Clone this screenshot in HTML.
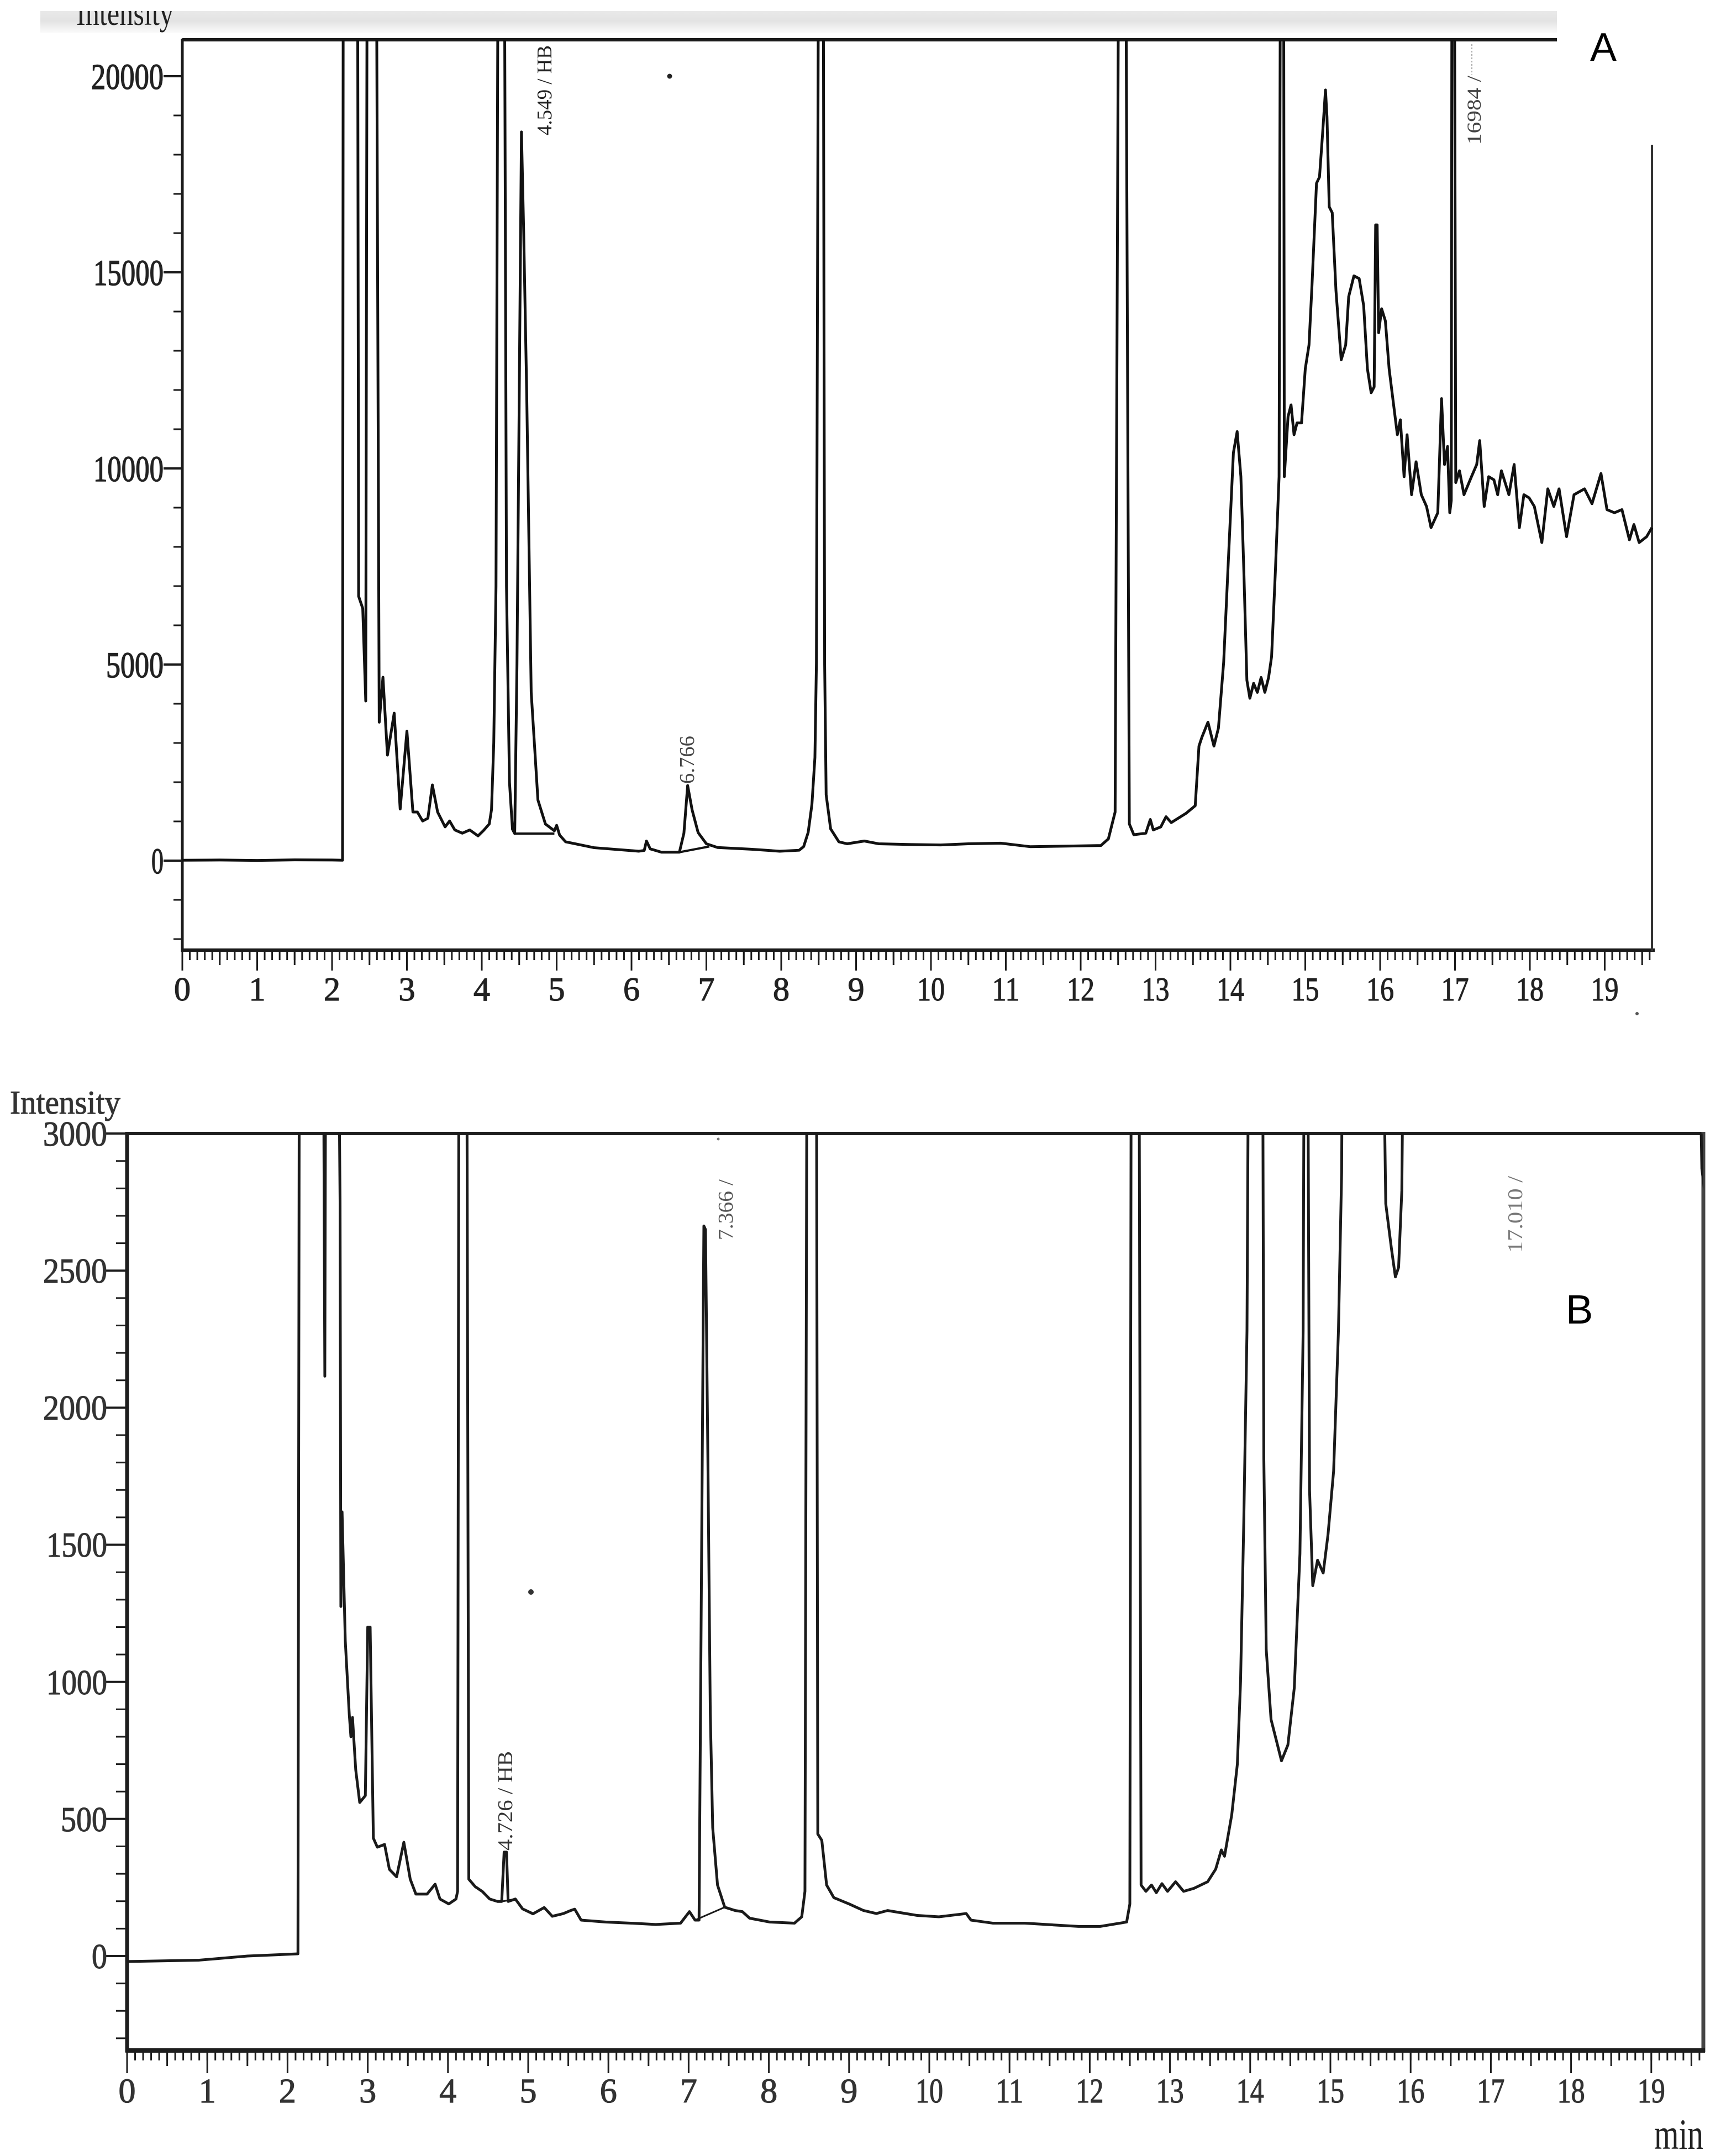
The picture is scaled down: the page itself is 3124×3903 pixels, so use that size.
<!DOCTYPE html>
<html><head><meta charset="utf-8"><style>
html,body{margin:0;padding:0;background:#fff;}
svg{display:block;}
text{font-family:"Liberation Serif",serif;}
</style></head><body>
<svg width="3124" height="3903" viewBox="0 0 3124 3903" xmlns="http://www.w3.org/2000/svg">
<defs>
<linearGradient id="band" x1="0" y1="0" x2="0" y2="1">
<stop offset="0" stop-color="#e9e9e9"/><stop offset="0.45" stop-color="#e3e3e3"/><stop offset="1" stop-color="#fbfbfb"/>
</linearGradient>
<clipPath id="cIA"><rect x="0" y="20" width="3124" height="60"/></clipPath>
<clipPath id="cA"><rect x="330" y="72" width="2662" height="1648"/></clipPath>
<clipPath id="cB"><rect x="230" y="2052" width="2853" height="1660"/></clipPath>
</defs>
<rect x="0" y="0" width="3124" height="3903" fill="#fff"/>

<!-- ===== CHART A ===== -->
<rect x="73" y="20" width="2745" height="40" fill="url(#band)"/>
<text x="138" y="45" font-size="62" textLength="176" lengthAdjust="spacingAndGlyphs" fill="#222" clip-path="url(#cIA)">Intensity</text>

<g stroke="#1a1a1a" fill="none">
<line x1="330" y1="72" x2="2818" y2="72" stroke-width="6"/>
<line x1="330" y1="70" x2="330" y2="1723" stroke-width="5"/>
<line x1="328" y1="1720" x2="2995" y2="1720" stroke-width="6"/>
<line x1="2990" y1="262" x2="2990" y2="1722" stroke-width="4" stroke="#333"/>
<line x1="322" y1="1701.5" x2="322" y2="130" stroke-width="16" stroke-dasharray="3 68"/>
<path d="M296 138H330M296 493H330M296 848H330M296 1203H330M296 1558H330" stroke-width="4"/>
<line x1="328.5" y1="1729" x2="2992" y2="1729" stroke-width="18" stroke-dasharray="3 10.55"/>
<line x1="396.25" y1="1733.5" x2="2992" y2="1733.5" stroke-width="27" stroke-dasharray="3 132.5"/>
<line x1="328.5" y1="1738.5" x2="2992" y2="1738.5" stroke-width="37" stroke-dasharray="3 132.5"/>
</g>
<g font-size="66" fill="#222" stroke="#222" stroke-width="1.5" text-anchor="end">
<text x="296" y="161" textLength="131" lengthAdjust="spacingAndGlyphs">20000</text>
<text x="296" y="516" textLength="127" lengthAdjust="spacingAndGlyphs">15000</text>
<text x="296" y="871" textLength="127" lengthAdjust="spacingAndGlyphs">10000</text>
<text x="296" y="1226" textLength="104" lengthAdjust="spacingAndGlyphs">5000</text>
<text x="296" y="1581" textLength="22" lengthAdjust="spacingAndGlyphs">0</text>
</g>
<g font-size="60" fill="#222" stroke="#222" stroke-width="1.2" text-anchor="middle">
<text x="330" y="1811">0</text><text x="465.5" y="1811">1</text><text x="601" y="1811">2</text><text x="736.5" y="1811">3</text><text x="872" y="1811">4</text><text x="1007.5" y="1811">5</text><text x="1143" y="1811">6</text><text x="1278.5" y="1811">7</text><text x="1414" y="1811">8</text><text x="1549.5" y="1811">9</text>
<text x="1685" y="1811" textLength="50" lengthAdjust="spacingAndGlyphs">10</text><text x="1820.5" y="1811" textLength="50" lengthAdjust="spacingAndGlyphs">11</text><text x="1956" y="1811" textLength="50" lengthAdjust="spacingAndGlyphs">12</text><text x="2091.5" y="1811" textLength="50" lengthAdjust="spacingAndGlyphs">13</text><text x="2227" y="1811" textLength="50" lengthAdjust="spacingAndGlyphs">14</text><text x="2362.5" y="1811" textLength="50" lengthAdjust="spacingAndGlyphs">15</text><text x="2498" y="1811" textLength="50" lengthAdjust="spacingAndGlyphs">16</text><text x="2633.5" y="1811" textLength="50" lengthAdjust="spacingAndGlyphs">17</text><text x="2769" y="1811" textLength="50" lengthAdjust="spacingAndGlyphs">18</text><text x="2904.5" y="1811" textLength="50" lengthAdjust="spacingAndGlyphs">19</text>
</g>

<g clip-path="url(#cA)">
<g transform="matrix(135.5 0 0 -0.071 330 1558)" fill="none" stroke="#111" stroke-width="5" stroke-linejoin="round">
<path vector-effect="non-scaling-stroke" d="M0 10 L0.5 15 L1.0 5 L1.5 20 L2.0 15 L2.14 10 L2.15 25000 L2.34 25000 L2.355 6740 L2.41 6430 L2.45 4070 L2.47 25000 L2.59 25000 L2.63 3530 L2.68 4676 L2.74 2690 L2.83 3760 L2.91 1316 L3.0 3301 L3.08 1240 L3.14 1240 L3.21 1010 L3.28 1080 L3.34 1930 L3.41 1240 L3.51 860 L3.57 1010 L3.64 782 L3.74 700 L3.84 782 L3.95 630 L4.03 782 L4.1 935 L4.13 1300 L4.16 3000 L4.19 7000 L4.22 25000 L4.30 25000 L4.33 7000 L4.37 2000 L4.41 800 L4.44 690 L4.47 5000 L4.53 18580 L4.56 16000 L4.6 11932 L4.66 4295 L4.75 1545 L4.85 935 L4.97 760 L5.0 900 L5.04 650 L5.12 480 L5.5 330 L6.1 240 L6.17 260 L6.2 500 L6.25 300 L6.4 215 L6.64 215 L6.7 700 L6.75 1915 L6.81 1290 L6.89 715 L7.0 430 L7.15 335 L7.6 290 L7.98 240 L8.24 265 L8.3 360 L8.36 720 L8.41 1435 L8.45 2630 L8.47 5040 L8.50 25000 L8.56 25000 L8.58 5000 L8.6 1680 L8.66 810 L8.77 480 L8.88 430 L9.11 500 L9.3 430 L9.74 410 L10.13 400 L10.5 430 L10.93 446 L11.33 355 L11.8 370 L12.27 385 L12.37 555 L12.46 1240 L12.51 25000 L12.6 25000 L12.65 935 L12.71 660 L12.87 700 L12.93 1050 L12.97 782 L13.07 860 L13.14 1120 L13.21 970 L13.41 1210 L13.53 1400 L13.58 2920 L13.62 3150 L13.7 3530 L13.78 2920 L13.84 3380 L13.91 5060 L13.98 7960 L14.04 10400 L14.09 10940 L14.14 9790 L14.18 7350 L14.22 4600 L14.26 4140 L14.31 4520 L14.36 4290 L14.41 4670 L14.46 4290 L14.51 4670 L14.55 5200 L14.6 7350 L14.65 9790 L14.67 25000 L14.71 25000 L14.72 9790 L14.77 11320 L14.81 11620 L14.85 10860 L14.89 11160 L14.95 11160 L15.0 12540 L15.05 13150 L15.09 14680 L15.15 17270 L15.19 17430 L15.23 18500 L15.27 19650 L15.29 18960 L15.32 16670 L15.36 16520 L15.41 14530 L15.48 12770 L15.54 13150 L15.58 14380 L15.65 14910 L15.72 14840 L15.78 14150 L15.83 12540 L15.88 11930 L15.92 12080 L15.94 16210 L15.96 16210 L15.98 13460 L16.02 14070 L16.07 13760 L16.12 12540 L16.18 11620 L16.23 10860 L16.27 11240 L16.32 9790 L16.36 10860 L16.42 9330 L16.48 10170 L16.55 9330 L16.62 9030 L16.68 8490 L16.77 8870 L16.82 11780 L16.86 10100 L16.9 10560 L16.93 8870 L16.95 9180 L16.96 25000 L16.99 25000 L17.01 9640 L17.06 9940 L17.12 9330 L17.22 9790 L17.29 10100 L17.33 10710 L17.39 9030 L17.45 9790 L17.52 9710 L17.57 9330 L17.62 9940 L17.72 9330 L17.79 10100 L17.86 8490 L17.92 9330 L17.99 9250 L18.06 9030 L18.16 8110 L18.24 9480 L18.32 9030 L18.39 9480 L18.49 8260 L18.59 9330 L18.73 9480 L18.83 9100 L18.95 9870 L19.03 8950 L19.13 8870 L19.23 8950 L19.33 8180 L19.39 8570 L19.46 8110 L19.56 8260 L19.63 8490"/>
<path vector-effect="non-scaling-stroke" stroke-width="4" d="M4.43 690 L4.97 690 M6.64 215 L7.04 360"/>
</g>
</g>

<g font-size="38" fill="#222">
<text transform="translate(998,245) rotate(-90)" textLength="163" lengthAdjust="spacingAndGlyphs">4.549 / HB</text>
<text transform="translate(1256,1419) rotate(-90)" textLength="87" lengthAdjust="spacingAndGlyphs" fill="#444">6.766</text>
<text transform="translate(2680,262) rotate(-90)" font-size="36" textLength="125" lengthAdjust="spacingAndGlyphs" fill="#444">16984 /</text>
</g>
<line x1="2664" y1="80" x2="2664" y2="135" stroke="#aaa" stroke-width="2" stroke-dasharray="3 3"/>
<circle cx="1212" cy="138" r="4.5" fill="#222"/>
<circle cx="2963" cy="1835" r="3" fill="#555"/>
<text x="2878" y="110" style="font-family:'Liberation Sans',sans-serif" font-size="72" fill="#000">A</text>

<!-- ===== CHART B ===== -->
<text x="18" y="2016" font-size="60" textLength="200" lengthAdjust="spacingAndGlyphs" fill="#333" stroke="#333" stroke-width="1">Intensity</text>
<g stroke="#1e1e1e" fill="none">
<line x1="230" y1="2052" x2="3086" y2="2052" stroke-width="6"/>
<line x1="3083" y1="2049" x2="3083" y2="3715" stroke-width="7" stroke="#444"/>
<line x1="230" y1="2049" x2="230" y2="3715" stroke-width="7"/>
<line x1="227" y1="3712" x2="3086" y2="3712" stroke-width="8"/>
<line x1="220" y1="3691.4" x2="220" y2="2048" stroke-width="20" stroke-dasharray="3 46.63"/>
<path d="M192 2052H230M192 2300.2H230M192 2548.4H230M192 2796.5H230M192 3044.7H230M192 3292.8H230M192 3541H230" stroke-width="4"/>
<line x1="228.5" y1="3721" x2="3083" y2="3721" stroke-width="18" stroke-dasharray="3 11.52"/>
<line x1="301.1" y1="3726" x2="3083" y2="3726" stroke-width="28" stroke-dasharray="3 142.2"/>
<line x1="228.5" y1="3732.5" x2="3083" y2="3732.5" stroke-width="41" stroke-dasharray="3 142.2"/>
</g>
<g font-size="64" fill="#333" stroke="#333" stroke-width="1.2" text-anchor="end">
<text x="194" y="2074" textLength="116" lengthAdjust="spacingAndGlyphs">3000</text>
<text x="194" y="2322" textLength="116" lengthAdjust="spacingAndGlyphs">2500</text>
<text x="194" y="2570" textLength="116" lengthAdjust="spacingAndGlyphs">2000</text>
<text x="194" y="2818" textLength="110" lengthAdjust="spacingAndGlyphs">1500</text>
<text x="194" y="3067" textLength="110" lengthAdjust="spacingAndGlyphs">1000</text>
<text x="194" y="3315" textLength="84" lengthAdjust="spacingAndGlyphs">500</text>
<text x="194" y="3563" textLength="28" lengthAdjust="spacingAndGlyphs">0</text>
</g>
<g font-size="62" fill="#333" stroke="#333" stroke-width="1.2" text-anchor="middle">
<text x="230" y="3806">0</text><text x="375.2" y="3806">1</text><text x="520.4" y="3806">2</text><text x="665.6" y="3806">3</text><text x="810.8" y="3806">4</text><text x="956" y="3806">5</text><text x="1101.2" y="3806">6</text><text x="1246.4" y="3806">7</text><text x="1391.6" y="3806">8</text><text x="1536.8" y="3806">9</text>
<text x="1682" y="3806" textLength="50" lengthAdjust="spacingAndGlyphs">10</text><text x="1827.2" y="3806" textLength="50" lengthAdjust="spacingAndGlyphs">11</text><text x="1972.4" y="3806" textLength="50" lengthAdjust="spacingAndGlyphs">12</text><text x="2117.6" y="3806" textLength="50" lengthAdjust="spacingAndGlyphs">13</text><text x="2262.8" y="3806" textLength="50" lengthAdjust="spacingAndGlyphs">14</text><text x="2408" y="3806" textLength="50" lengthAdjust="spacingAndGlyphs">15</text><text x="2553.2" y="3806" textLength="50" lengthAdjust="spacingAndGlyphs">16</text><text x="2698.4" y="3806" textLength="50" lengthAdjust="spacingAndGlyphs">17</text><text x="2843.6" y="3806" textLength="50" lengthAdjust="spacingAndGlyphs">18</text><text x="2988.8" y="3806" textLength="50" lengthAdjust="spacingAndGlyphs">19</text>
</g>
<text x="2994" y="3890" font-size="78" textLength="89" lengthAdjust="spacingAndGlyphs" fill="#222">min</text>

<g clip-path="url(#cB)">
<g transform="matrix(145.2 0 0 -0.4963 230 3541)" fill="none" stroke="#1a1a1a" stroke-width="5" stroke-linejoin="round">
<path vector-effect="non-scaling-stroke" d="M0 -20 L0.9 -15 L1.5 0 L2.13 8 L2.15 4000 L2.44 4000 L2.465 2115 L2.48 4000 L2.62 4000 L2.655 2750 L2.665 1275 L2.68 1620 L2.72 1150 L2.77 880 L2.79 800 L2.81 870 L2.85 680 L2.90 560 L2.97 585 L3.0 1200 L3.03 1200 L3.07 430 L3.12 397 L3.21 407 L3.27 316 L3.36 289 L3.45 415 L3.53 280 L3.6 226 L3.74 226 L3.84 262 L3.9 208 L4.01 190 L4.1 208 L4.12 236 L4.14 4000 L4.23 4000 L4.26 280 L4.34 253 L4.43 235 L4.52 208 L4.62 199 L4.67 199 L4.7 379 L4.73 379 L4.75 199 L4.84 208 L4.93 172 L5.06 154 L5.2 177 L5.3 145 L5.44 155 L5.53 166 L5.58 171 L5.66 131 L5.97 124 L6.28 120 L6.59 115 L6.9 120 L7.01 162 L7.08 131 L7.13 131 L7.19 2663 L7.21 2650 L7.24 1815 L7.27 886 L7.3 468 L7.36 259 L7.45 178 L7.58 166 L7.67 162 L7.76 138 L8.01 124 L8.32 120 L8.41 143 L8.45 236 L8.48 4000 L8.59 4000 L8.61 445 L8.66 422 L8.72 259 L8.81 213 L9.0 190 L9.18 166 L9.34 155 L9.48 166 L9.85 148 L10.12 143 L10.46 155 L10.52 131 L10.79 120 L11.19 120 L11.46 115 L11.86 108 L12.13 108 L12.46 124 L12.5 190 L12.52 4000 L12.61 4000 L12.64 259 L12.7 236 L12.77 259 L12.83 231 L12.9 264 L12.97 236 L13.07 271 L13.17 236 L13.3 247 L13.47 271 L13.57 317 L13.64 387 L13.68 364 L13.77 515 L13.84 700 L13.88 1002 L13.92 1583 L13.96 2280 L13.99 4000 L14.15 4000 L14.17 1815 L14.2 1118 L14.26 863 L14.33 782 L14.39 712 L14.47 770 L14.55 979 L14.62 1467 L14.66 2280 L14.68 4000 L14.71 4000 L14.74 1699 L14.78 1351 L14.84 1444 L14.91 1397 L14.97 1537 L15.04 1769 L15.1 2280 L15.14 2860 L15.16 4000 L15.63 4000 L15.69 2744 L15.76 2582 L15.81 2477 L15.85 2512 L15.89 2791 L15.93 4000 L19.56 4000 L19.63 2872 L19.66 2800"/>
<path vector-effect="non-scaling-stroke" stroke-width="3" d="M4.67 199 L4.84 208 M7.08 131 L7.45 178"/>
</g>
</g>

<g font-size="38">
<text transform="translate(1326,2245) rotate(-90)" textLength="110" lengthAdjust="spacingAndGlyphs" fill="#555">7.366 /</text>
<text transform="translate(927,3350) rotate(-90)" textLength="180" lengthAdjust="spacingAndGlyphs" fill="#333">4.726 / HB</text>
<text transform="translate(2755,2268) rotate(-90)" textLength="139" lengthAdjust="spacingAndGlyphs" fill="#777">17.010 /</text>
</g>
<circle cx="961" cy="2882" r="5" fill="#333"/>
<circle cx="1300" cy="2062" r="2.5" fill="#777"/>
<text x="2834" y="2396" style="font-family:'Liberation Sans',sans-serif" font-size="74" fill="#000">B</text>
</svg>
</body></html>
